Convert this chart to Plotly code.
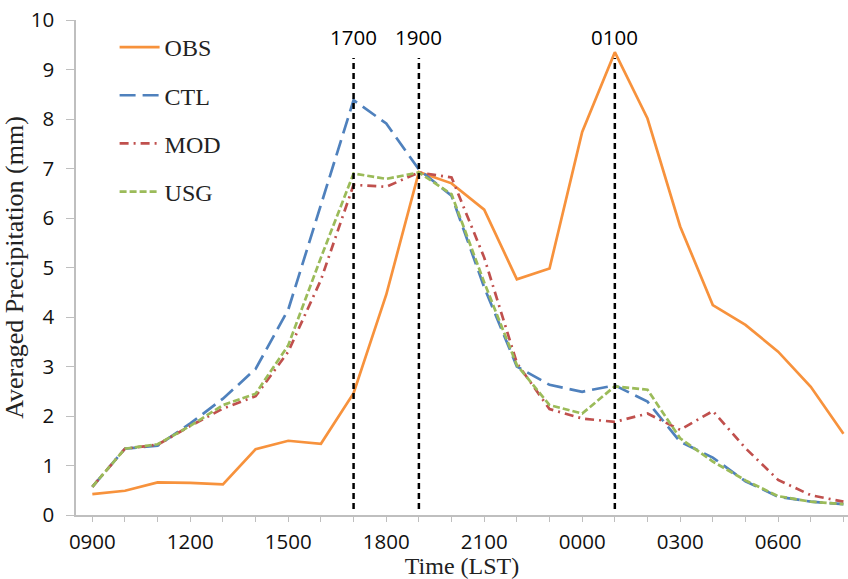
import plotly.graph_objects as go

hours = ["0900", "1000", "1100", "1200", "1300", "1400", "1500", "1600", "1700", "1800",
         "1900", "2000", "2100", "2200", "2300", "0000", "0100", "0200", "0300", "0400",
         "0500", "0600", "0700", "0800"]
tick_labels = ["0900", "1200", "1500", "1800", "2100", "0000", "0300", "0600"]

obs = [0.42, 0.49, 0.66, 0.65, 0.62, 1.33, 1.50, 1.44, 2.46, 4.45, 6.93, 6.70, 6.17, 4.76,
       4.98, 7.74, 9.35, 8.01, 5.83, 4.24, 3.84, 3.30, 2.59, 1.64]
ctl = [0.57, 1.34, 1.40, 1.85, 2.35, 2.95, 4.15, 6.25, 8.38, 7.91, 6.98, 6.45, 4.60, 3.00,
       2.63, 2.49, 2.62, 2.29, 1.48, 1.16, 0.68, 0.37, 0.27, 0.22]
mod = [0.57, 1.34, 1.42, 1.80, 2.15, 2.40, 3.30, 4.75, 6.67, 6.63, 6.92, 6.82, 5.20, 3.07,
       2.14, 1.95, 1.88, 2.05, 1.72, 2.10, 1.35, 0.71, 0.40, 0.27]
usg = [0.57, 1.34, 1.43, 1.80, 2.22, 2.45, 3.43, 5.20, 6.90, 6.79, 6.92, 6.48, 4.70, 3.03,
       2.22, 2.05, 2.60, 2.53, 1.55, 1.08, 0.70, 0.38, 0.27, 0.22]

marker_hours = ["1700", "1900", "0100"]
marker_span = [0.12, 9.23]
marker_label_y = 9.66

series = [
    ("OBS", obs, "#F7923C", "solid"),
    ("CTL", ctl, "#4F81BD", "16px,7px"),
    ("MOD", mod, "#C0504D", "9px,5px,2px,5px"),
    ("USG", usg, "#9BBB59", "7px,3px"),
]

x_idx = list(range(len(hours)))

fig = go.Figure()
for name, vals, color, dash in series:
    fig.add_trace(go.Scatter(
        x=x_idx, y=vals, name=name, mode="lines", legendgroup=name,
        line=dict(color=color, width=2.7, dash=dash),
    ))

for h in marker_hours:
    xi = hours.index(h)
    fig.add_shape(type="line", xref="x", yref="y", x0=xi, x1=xi,
                  y0=marker_span[0], y1=marker_span[1],
                  line=dict(color="black", width=2.5, dash="6px,4px"))
    fig.add_annotation(x=xi, y=marker_label_y, xref="x", yref="y", text=h,
                       showarrow=False,
                       font=dict(family="Open Sans", size=20.5, color="black"))

tick_font = dict(family="Open Sans", size=20.5, color="#111111")
serif = dict(family="Liberation Serif", size=24, color="#222222")
serif_y = dict(family="Liberation Serif", size=26, color="#222222")

fig.update_layout(
    template="none",
    width=848, height=579,
    margin=dict(l=76, r=0, t=20, b=64, pad=0),
    paper_bgcolor="white", plot_bgcolor="white",
    showlegend=True,
    legend=dict(x=0.05, y=0.99, xanchor="left", yanchor="top",
                font=serif, tracegroupgap=14, itemwidth=40,
                bgcolor="rgba(0,0,0,0)"),
    xaxis=dict(
        range=[-0.5, 23.14], automargin=False,
        tickmode="array", tickvals=[hours.index(t) for t in tick_labels], ticktext=tick_labels,
        showgrid=False, zeroline=False,
        showline=True, linecolor="#BFBFBF", linewidth=1.5,
        ticks="", tickfont=tick_font, ticklabelstandoff=8,
        minor=dict(ticks="outside", ticklen=5, tickcolor="#BFBFBF", tickwidth=1,
                   tickvals=x_idx, showgrid=False),
        title=dict(text="Time (LST)", font=serif, standoff=5),
    ),
    yaxis=dict(
        range=[0, 10], automargin=False, tickmode="array", tickvals=list(range(11)),
        showgrid=False, zeroline=False,
        showline=True, linecolor="#BFBFBF", linewidth=1.5,
        ticks="outside", ticklen=8, tickcolor="#BFBFBF", tickwidth=1,
        tickfont=tick_font, ticklabelstandoff=8,
        title=dict(text="Averaged Precipitation (mm)", font=serif_y, standoff=2),
    ),
)

fig.write_html(
    "out.html",
    config={"displayModeBar": False},
    post_script="document.body.style.margin='0';document.body.style.overflow='hidden';",
)
